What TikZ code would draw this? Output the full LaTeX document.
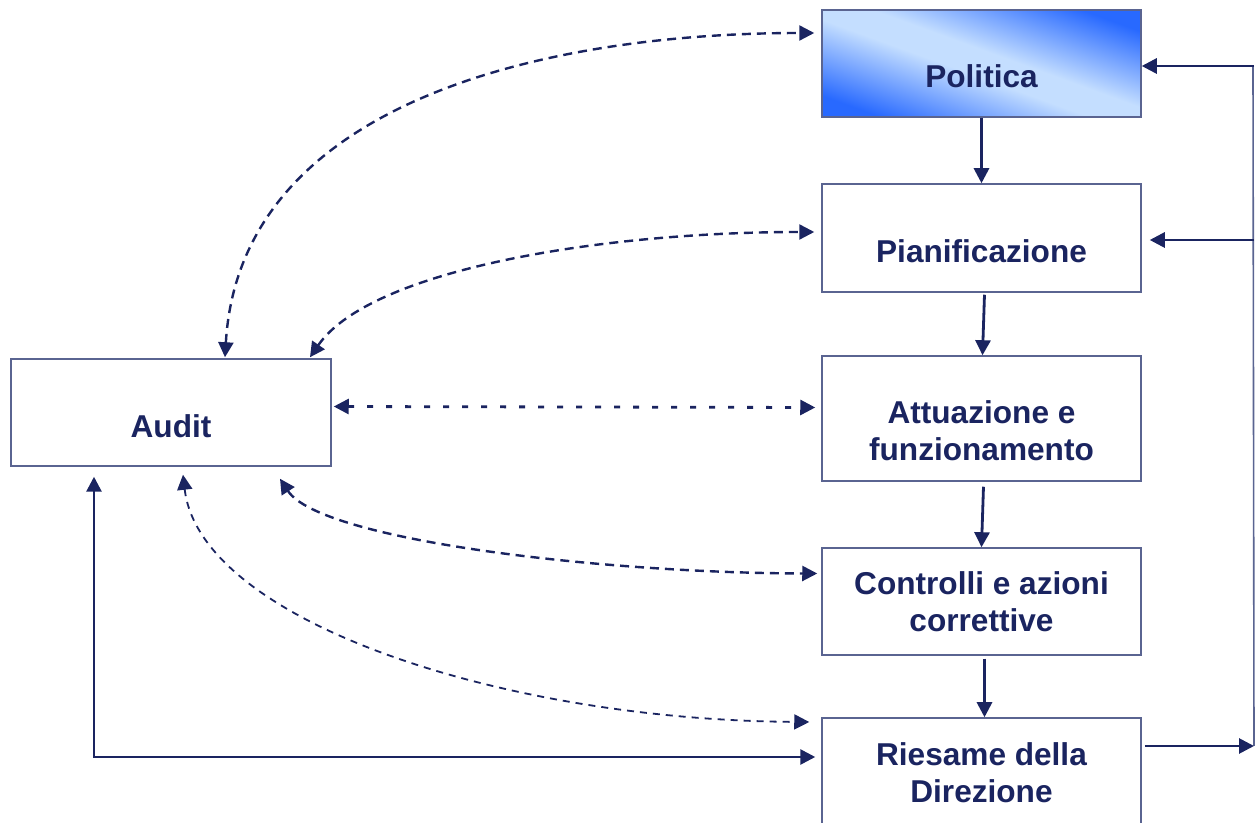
\documentclass[tikz,border=0pt]{standalone}
\usepackage{fontspec}
\setmainfont{Liberation Sans}
\usetikzlibrary{arrows.meta,calc}
\definecolor{navy}{RGB}{26,36,96}
\definecolor{boxline}{RGB}{90,100,145}
\definecolor{pdeep}{RGB}{40,105,255}
\definecolor{plight}{RGB}{196,222,255}
\pgfdeclareverticalshading{polsh}{100bp}{color(0bp)=(pdeep); color(24bp)=(pdeep); color(46bp)=(plight); color(54bp)=(plight); color(76bp)=(pdeep); color(100bp)=(pdeep)}
\tikzset{
  box/.style={draw=boxline, line width=0.75pt, fill=white, inner sep=0pt, minimum width=159.5pt},
  polbox/.style={draw=boxline, line width=0.75pt, inner sep=0pt, minimum width=159.5pt, shading=polsh, shading angle=-20},
  lab/.style={font=\bfseries\fontsize{15.8}{18.5}\selectfont, text=navy, align=center, inner sep=0pt},
  arr/.style={draw=navy, line width=1.4pt, -{Triangle[length=7.5pt,width=7.5pt]}},
  darr/.style={draw=navy, line width=1.4pt, {Triangle[length=7.5pt,width=7.5pt]}-{Triangle[length=7.5pt,width=7.5pt]}},
  dcurve/.style={draw=navy, line width=1.2pt, dash pattern=on 4.5pt off 3pt, {Triangle[length=7.5pt,width=7.5pt]}-{Triangle[length=7.5pt,width=7.5pt]}},
  dline/.style={draw=navy, line width=1.4pt, dash pattern=on 3pt off 6.5pt, {Triangle[length=7.5pt,width=7.5pt]}-{Triangle[length=7.5pt,width=7.5pt]}},
  dfine/.style={draw=navy, line width=0.9pt, dash pattern=on 3.5pt off 3pt, {Triangle[length=7.5pt,width=7.5pt]}-{Triangle[length=7.5pt,width=7.5pt]}},
  thin/.style={draw=boxline, line width=0.8pt},
}
\begin{document}
\begin{tikzpicture}[x=0.5pt,y=-0.5pt]
\clip (0,0) rectangle (1255,823);
\fill[white] (0,0) rectangle (1255,823);
% boxes
\node[polbox, minimum height=53.5pt] (pol) at (981.5,63.5) {};
\node[box, minimum height=54pt] (pia) at (981.5,238) {};
\node[box, minimum height=62.5pt] (att) at (981.5,418.5) {};
\node[box, minimum height=53.5pt] (con) at (981.5,601.5) {};
\node[box, minimum height=61pt] (rie) at (981.5,779) {};
\node[box, minimum width=160pt, minimum height=53.5pt] (aud) at (171,412.5) {};
% labels
\node[lab] (tpol) at (981.5,76) {Politica};
\node[lab] (tpia) at (981.5,251) {Pianificazione};
\node[lab] (tatt) at (981.5,431) {Attuazione e\\funzionamento};
\node[lab] (tcon) at (981.5,602) {Controlli e azioni\\correttive};
\node[lab] (trie) at (981.5,773) {Riesame della\\Direzione};
\node[lab] (taud) at (171,426) {Audit};
% vertical chain
\draw[arr] (pol.south) -- (pia.north);
\draw[arr] ($(pia.south)+(3,2)$) -- ($(att.north)+(1,0)$);
\draw[arr] ($(att.south)+(2,5)$) -- (att.south |- con.north);
\draw[arr] ($(con.south)+(3,3)$) -- ($(rie.north)+(3,0)$);
% right loop
\coordinate (rt) at (1253,66);
\coordinate (rp) at (1253,240);
\coordinate (rb) at (1254,746);
\draw[thin] (rt) -- (rb);
\draw[arr] ($(rt)+(1,0)$) -- (rt -| pol.east);
\draw[arr] ($(rp)+(1,0)$) -- ($(rp -| pia.east)+(8,0)$);
\draw[arr] ($(rb -| rie.east)+(3,0)$) -- (rb);
% left loop
\coordinate (lc) at (94,757);
\draw[darr] ($(lc |- aud.south)+(0,10)$) -- (lc) -- ($(lc -| rie.west)+(-6,0)$);
% dashed links
\draw[dcurve] ($(aud.north)+(54,-1)$) .. controls (240,100) and (550,33) .. ($(pol.west)+(-7,-30.5)$);
\draw[dcurve] ($(aud.north)+(139,-1)$) .. controls (370,270) and (600,232) .. ($(pia.west)+(-7,-6)$);
\draw[dline] ($(aud.east)+(2,-6)$) -- ($(att.west)+(-6,-11)$);
\draw[dcurve] ($(aud.south)+(109,12)$) .. controls (320,540) and (600,573) .. ($(con.west)+(-4,-28)$);
\draw[dfine] ($(aud.south)+(12,8)$) .. controls (200,620) and (500,720) .. ($(rie.west)+(-12,-57)$);
\end{tikzpicture}
\end{document}
